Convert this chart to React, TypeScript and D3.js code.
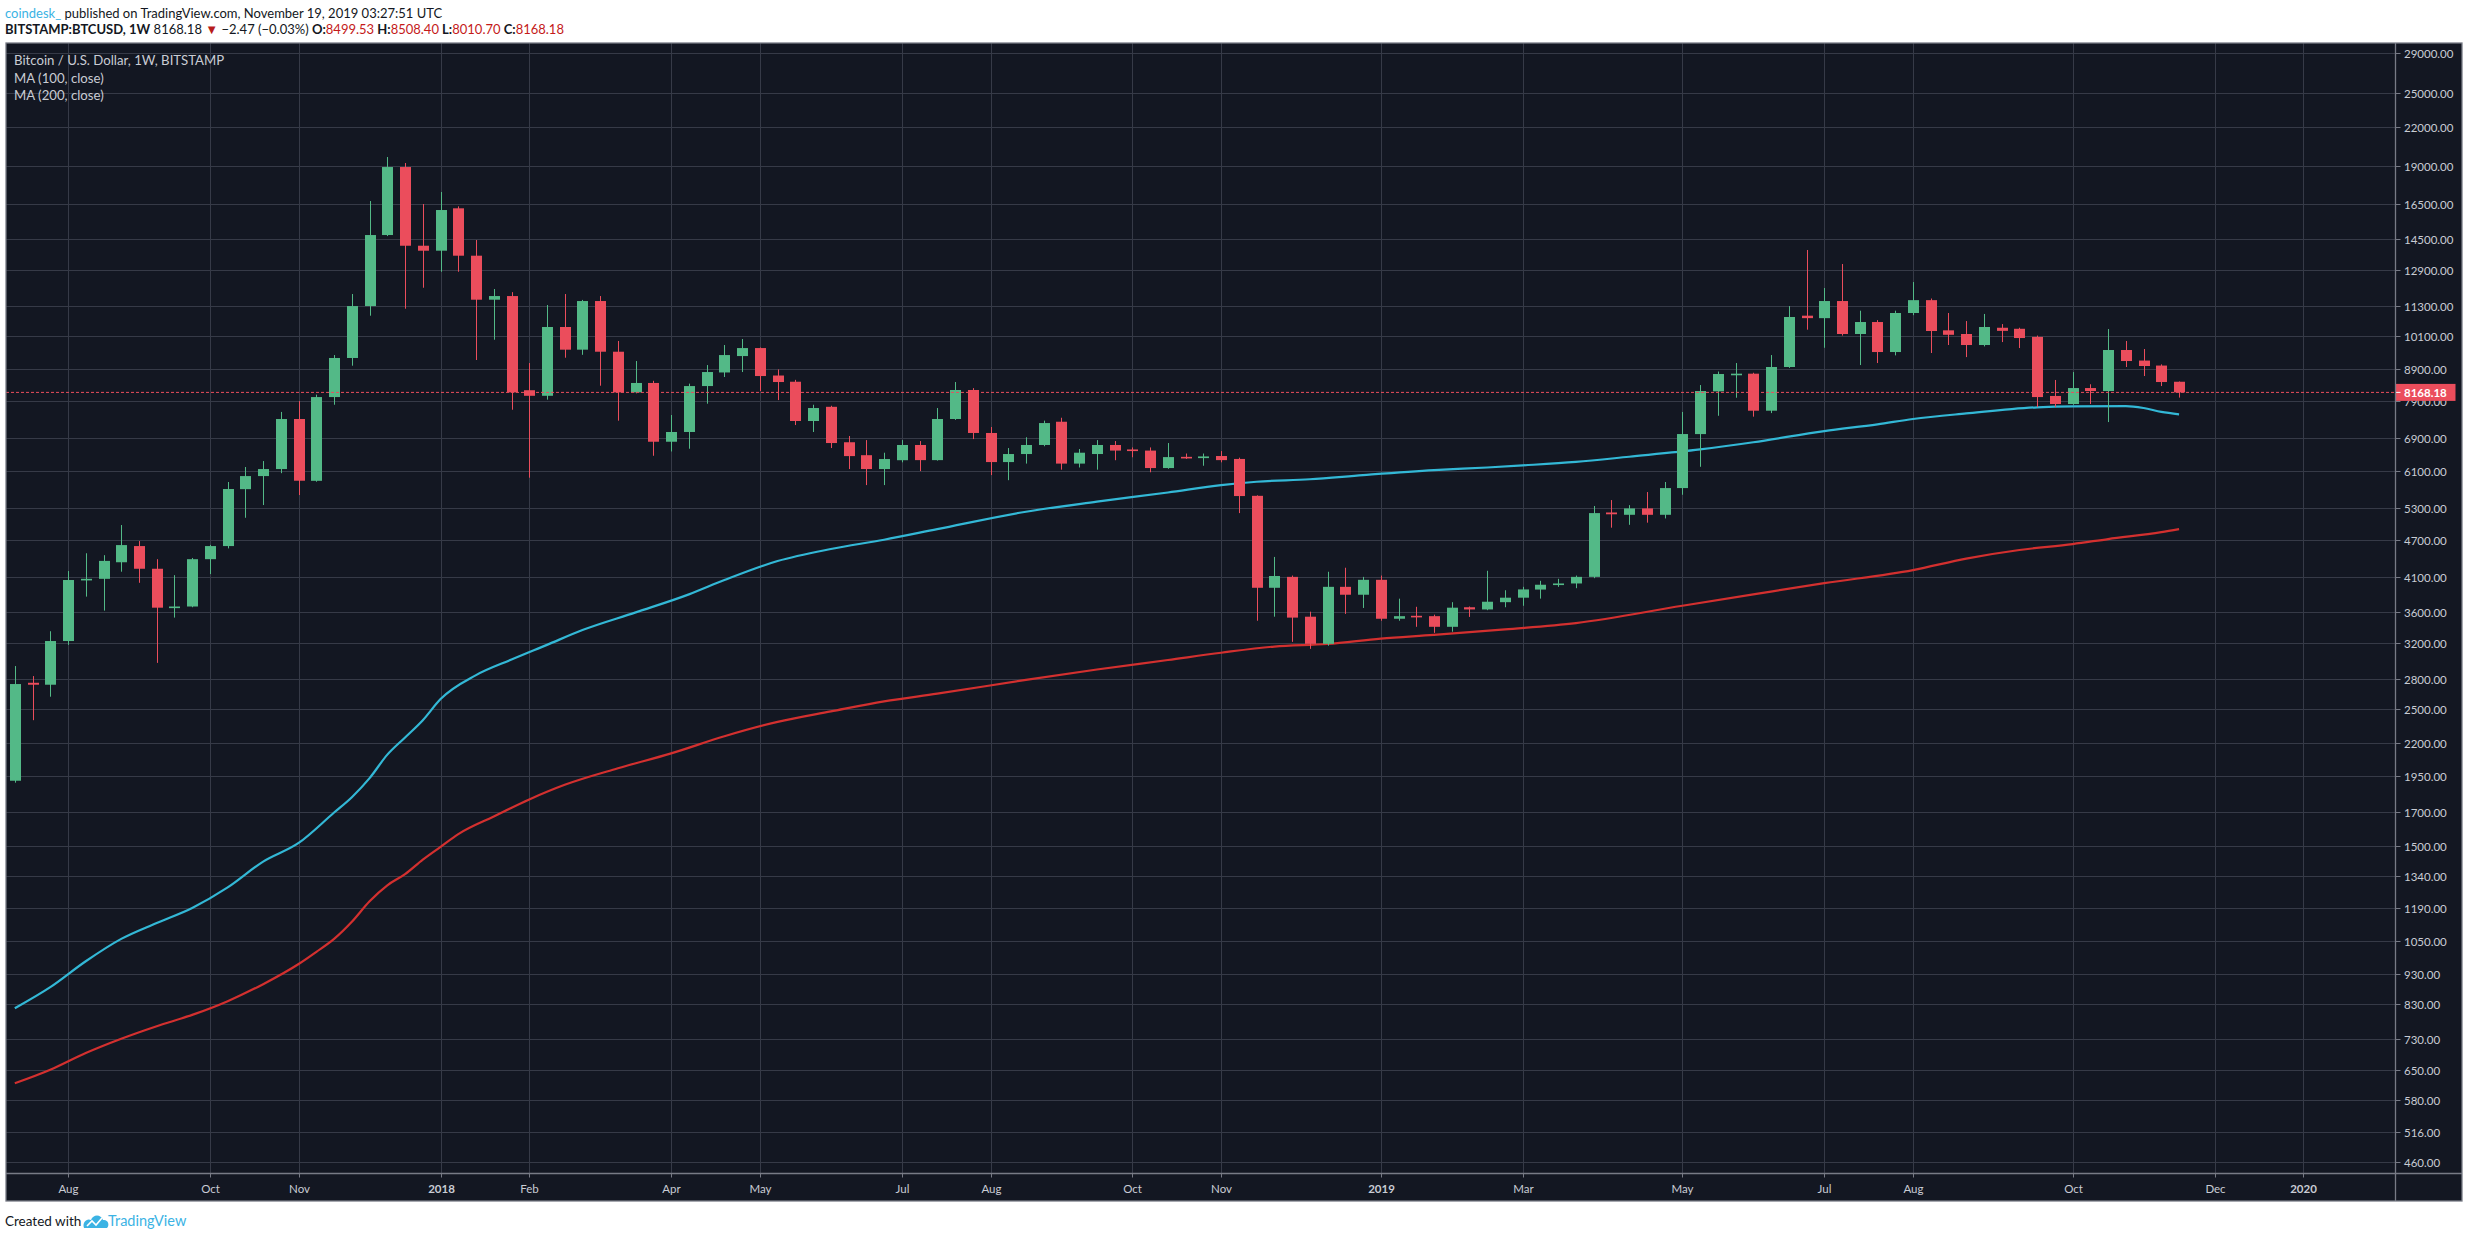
import * as React from 'react';
import * as d3 from 'd3';

// weekly BITSTAMP:BTCUSD candles, first bar = week of 2017-07-17
const firstWeek = Date.UTC(2017, 6, 17);
const opens = [
  1914, 2760, 2740, 3226, 4050, 4070, 4330, 4600, 4226, 3650,
  3670, 4380, 4600, 5690, 5975, 6134, 7395, 5870, 8027, 9289,
  11278, 14706, 18960, 14130, 13870, 16250, 13613, 11549, 11708, 8235,
  8065, 10429, 9582, 11492, 9509, 8168, 8461, 6793, 7045, 8364,
  8800, 9356, 9640, 8700, 8500, 7340, 7740, 6780, 6460, 6134,
  6340, 6711, 6342, 7395, 8242, 7019, 6296, 6488, 6711, 7320,
  6260, 6488, 6711, 6600, 6572, 6157, 6420, 6390, 6440, 6370,
  5550, 3936, 4100, 3533, 3192, 3950, 3835, 4055, 3506, 3545,
  3540, 3402, 3660, 3630, 3730, 3793, 3910, 3980, 4000, 4100,
  5215, 5170, 5295, 5170, 5713, 6990, 8200, 8740, 8760, 7628,
  8981, 10880, 10780, 11492, 10160, 10625, 9498, 10989, 11530, 10300,
  10160, 9750, 10400, 10360, 10050, 8060, 7821, 8302, 8210, 9570,
  9200, 9030, 8499.53,
];
const highs = [
  2938, 2830, 3346, 4190, 4478, 4446, 4976, 4687, 4380, 4126,
  4400, 4620, 5844, 6181, 6320, 7593, 7908, 8100, 9391, 11797,
  16699, 19683, 19247, 16513, 17270, 16370, 14434, 12019, 11880, 9115,
  11322, 11797, 11540, 11708, 9898, 9184, 8530, 7506, 8440, 9047,
  9750, 9971, 9660, 8900, 8560, 7800, 7770, 6940, 6835, 6520,
  6835, 6810, 7705, 8491, 8300, 7177, 6635, 6907, 7350, 7430,
  6610, 6835, 6810, 6650, 6650, 6760, 6500, 6500, 6560, 6400,
  5560, 4417, 4120, 3600, 4179, 4242, 4100, 4120, 3779, 3666,
  3560, 3730, 3670, 4194, 3900, 3950, 4040, 4070, 4120, 5343,
  5463, 5360, 5629, 5844, 7593, 8396, 8830, 9115, 8790, 9391,
  11278, 13906, 12065, 13196, 11084, 10700, 11084, 12337, 11600, 10989,
  10664, 10950, 10544, 10400, 10100, 8556, 8814, 8420, 10350, 9898,
  9606, 9070, 8508.40,
];
const lows = [
  1900, 2400, 2620, 3180, 3808, 3614, 4180, 4010, 2973, 3521,
  3660, 4143, 4560, 5113, 5362, 6040, 5566, 5850, 7800, 9025,
  10879, 14650, 11166, 12077, 12821, 12820, 9219, 9944, 7656, 5939,
  7950, 9298, 9400, 8375, 7349, 8140, 6446, 6550, 6618, 7830,
  8651, 8814, 8210, 7937, 7230, 7045, 6635, 6134, 5777, 5777,
  6290, 6088, 6330, 7370, 6860, 5997, 5884, 6260, 6680, 6120,
  6170, 6120, 6340, 6410, 6060, 6140, 6370, 6210, 6290, 5203,
  3480, 3533, 3216, 3133, 3170, 3570, 3650, 3480, 3480, 3402,
  3326, 3340, 3530, 3620, 3660, 3680, 3780, 3950, 3930, 4080,
  4927, 4980, 5020, 5100, 5572, 6186, 7485, 8007, 7460, 7560,
  8950, 10325, 9650, 10100, 9047, 9115, 9380, 10900, 9463, 9750,
  9320, 9700, 9858, 9640, 7733, 7733, 7800, 7821, 7311, 8981,
  8683, 8364, 8010.70,
];
const closes = [
  2747, 2740, 3226, 4052, 4070, 4352, 4617, 4226, 3654, 3670,
  4380, 4600, 5693, 5975, 6134, 7395, 5872, 8027, 9289, 11278,
  14706, 18960, 14129, 13869, 16147, 13613, 11549, 11708, 8168, 8065,
  10429, 9582, 11492, 9509, 8168, 8461, 6793, 7045, 8364, 8814,
  9391, 9640, 8683, 8491, 7340, 7705, 6760, 6438, 6134, 6368,
  6711, 6342, 7395, 8242, 7019, 6296, 6488, 6711, 7284, 6260,
  6520, 6711, 6572, 6560, 6157, 6414, 6400, 6430, 6342, 5545,
  3936, 4113, 3521, 3192, 3950, 3835, 4055, 3506, 3540, 3535,
  3402, 3654, 3630, 3736, 3793, 3912, 3981, 4000, 4100, 5203,
  5180, 5295, 5170, 5713, 6991, 8210, 8749, 8760, 7628, 8981,
  10826, 10780, 11492, 10160, 10625, 9498, 10989, 11530, 10274, 10130,
  9750, 10429, 10280, 10008, 8027, 7821, 8302, 8210, 9570, 9184,
  9015, 8491, 8168.18,
];

// moving averages, by bar index
const ma100Bars = [0, 2, 4, 6, 8, 10, 12, 14, 16, 18, 19, 20, 21, 22, 23, 24, 26, 28, 30, 32, 35, 38, 40, 43, 46, 49, 52, 57, 61, 65, 68, 70, 73, 76, 80, 83, 85, 88, 91, 95, 98, 102, 105, 107, 110, 114, 116, 119, 120, 121, 122];
const ma100Values = [818, 885, 975, 1060, 1125, 1190, 1285, 1415, 1517, 1700, 1800, 1933, 2110, 2250, 2400, 2597, 2840, 3010, 3180, 3361, 3590, 3840, 4051, 4350, 4550, 4710, 4900, 5230, 5430, 5620, 5777, 5850, 5904, 5997, 6110, 6170, 6218, 6300, 6423, 6600, 6780, 7070, 7250, 7395, 7550, 7726, 7755, 7762, 7705, 7593, 7526];
const ma200Bars = [0, 2, 4, 6, 8, 10, 12, 14, 16, 17, 18, 19, 20, 21, 22, 23, 24, 25, 27, 29, 31, 34, 37, 40, 43, 46, 49, 52, 57, 61, 65, 68, 71, 74, 77, 80, 84, 88, 94, 98, 102, 107, 110, 113, 116, 118, 121, 122];
const ma200Values = [618, 650, 692, 730, 765, 798, 840, 895, 965, 1010, 1060, 1130, 1220, 1295, 1350, 1425, 1495, 1568, 1675, 1785, 1885, 2005, 2120, 2260, 2385, 2480, 2575, 2650, 2790, 2900, 3005, 3088, 3160, 3190, 3255, 3300, 3370, 3450, 3680, 3840, 4005, 4205, 4390, 4533, 4634, 4722, 4846, 4901];

const priceTicks = [29000, 25000, 22000, 19000, 16500, 14500, 12900, 11300, 10100, 8900, 7900, 6900, 6100, 5300, 4700, 4100, 3600, 3200, 2800, 2500, 2200, 1950, 1700, 1500, 1340, 1190, 1050, 930, 830, 730, 650, 580, 516, 460];
const timeTicks = ['2017-08-07', '2017-10-02', '2017-11-06', '2018-01-01', '2018-02-05', '2018-04-02', '2018-05-07', '2018-07-02', '2018-08-06', '2018-10-01', '2018-11-05', '2019-01-07', '2019-03-04', '2019-05-06', '2019-07-01', '2019-08-05', '2019-10-07', '2019-12-02', '2020-01-06'];
const timeLabels = ['Aug', 'Oct', 'Nov', '2018', 'Feb', 'Apr', 'May', 'Jul', 'Aug', 'Oct', 'Nov', '2019', 'Mar', 'May', 'Jul', 'Aug', 'Oct', 'Dec', '2020'];

const W = 2468;
const H = 1238;
const frame = { left: 6, top: 43, right: 2462, bottom: 1201 };
const axisX = 2395.5;
const axisY = 1173.5;
const bg = '#131722';
const up = '#53b987';
const down = '#eb4d5c';
const gridColor = '#363a47';
const borderColor = '#787b86';
const textColor = '#c9ccd4';
const font = 'Lato, "Liberation Sans", sans-serif';

const week = (i: number) => new Date(firstWeek + i * 7 * 864e5);

export default function App() {
  React.useEffect(() => {
    document.body.style.margin = '0';
  }, []);

  const x = d3.scaleUtc()
    .domain([week(0), week(closes.length - 1)])
    .range([14.8, 14.8 + (closes.length - 1) * 17.74]);
  const y = d3.scaleLog()
    .domain([460, 29000])
    .range([1162.3, 53.3]);

  const xi = (i: number) => x(week(i));
  const bodyW = 11;

  const makePath = (bars: number[], values: number[]) =>
    d3.line<number>()
      .x(i => xi(bars[i]))
      .y(i => y(values[i]))
      .curve(d3.curveMonotoneX)(bars.map((_, i) => i)) ?? '';

  const last = closes[closes.length - 1];
  const lastY = y(last);

  return (
    <div style={{ position: 'absolute', left: 0, top: 0 }}>
      <svg width={W} height={H} style={{ display: 'block' }} fontFamily={font}>
        <rect width={W} height={H} fill="#ffffff" />

        {/* header */}
        <text x={5} y={17.5} fontSize={13} fill="#131722">
          <tspan fill="#3bb3e4">coindesk_</tspan>
          <tspan> published on TradingView.com, November 19, 2019 03:27:51 UTC</tspan>
        </text>
        <text x={5} y={34} fontSize={13} fill="#131722">
          <tspan fontWeight="bold">BITSTAMP:BTCUSD, 1W</tspan>
          <tspan>  8168.18 </tspan>
          <tspan fill="#b71c1c">▼</tspan>
          <tspan> −2.47 (−0.03%) </tspan>
          <tspan fontWeight="bold">O:</tspan>
          <tspan fill="#c41a1a">8499.53</tspan>
          <tspan fontWeight="bold"> H:</tspan>
          <tspan fill="#c41a1a">8508.40</tspan>
          <tspan fontWeight="bold"> L:</tspan>
          <tspan fill="#c41a1a">8010.70</tspan>
          <tspan fontWeight="bold"> C:</tspan>
          <tspan fill="#c41a1a">8168.18</tspan>
        </text>

        {/* chart background */}
        <rect x={frame.left} y={frame.top} width={frame.right - frame.left} height={frame.bottom - frame.top} fill={bg} />

        <defs>
          <clipPath id="plot">
            <rect x={frame.left} y={frame.top} width={axisX - frame.left} height={axisY - frame.top} />
          </clipPath>
        </defs>

        {/* grid */}
        <g stroke={gridColor} strokeWidth={1}>
          {priceTicks.map(p => (
            <line key={'h' + p} x1={frame.left} x2={axisX} y1={Math.round(y(p)) + 0.5} y2={Math.round(y(p)) + 0.5} />
          ))}
          {timeTicks.map(t => {
            const px = Math.round(x(new Date(t + 'T00:00:00Z'))) + 0.5;
            return <line key={'v' + t} x1={px} x2={px} y1={frame.top} y2={axisY} />;
          })}
        </g>

        <g clipPath="url(#plot)">
          {/* moving averages */}
          <path d={makePath(ma200Bars, ma200Values)} fill="none" stroke="#d3302f" strokeWidth={2.2} />
          <path d={makePath(ma100Bars, ma100Values)} fill="none" stroke="#33b8d6" strokeWidth={2.2} />

          {/* candles */}
          {closes.map((c, i) => {
            const o = opens[i];
            const color = c >= o ? up : down;
            const cx = Math.round(xi(i)) + 0.5;
            const top = y(Math.max(o, c));
            const bot = y(Math.min(o, c));
            return (
              <g key={i}>
                <line x1={cx} x2={cx} y1={y(highs[i])} y2={y(lows[i])} stroke={color} strokeWidth={1} />
                <rect x={cx - bodyW / 2} y={top} width={bodyW} height={Math.max(1.6, bot - top)} fill={color} />
              </g>
            );
          })}

          {/* last price line */}
          <line x1={frame.left} x2={axisX} y1={lastY} y2={lastY} stroke={down} strokeWidth={1} strokeDasharray="3 2" />
        </g>

        {/* legend */}
        <g fontSize={13.2} fill={textColor}>
          <text x={14} y={65}>Bitcoin / U.S. Dollar, 1W, BITSTAMP</text>
          <text x={14} y={82.5}>MA (100, close)</text>
          <text x={14} y={99.5}>MA (200, close)</text>
        </g>

        {/* price axis */}
        <g>
          {priceTicks.map(p => {
            const py = Math.round(y(p)) + 0.5;
            return (
              <g key={'p' + p}>
                <line x1={axisX} x2={axisX + 5} y1={py} y2={py} stroke={borderColor} />
                <text x={2404} y={py + 4} fontSize={11.5} fill={textColor}>{d3.format('.2f')(p)}</text>
              </g>
            );
          })}
          <rect x={axisX} y={lastY - 8.5} width={60} height={17} fill={down} />
          <line x1={axisX} x2={axisX + 5} y1={lastY} y2={lastY} stroke="#ffffff" />
          <text x={2404} y={lastY + 4.2} fontSize={11.5} fontWeight="bold" fill="#ffffff">{d3.format('.2f')(last)}</text>
        </g>

        {/* time axis */}
        <g>
          {timeTicks.map((t, k) => {
            const px = Math.round(x(new Date(t + 'T00:00:00Z'))) + 0.5;
            const isYear = /^\d{4}$/.test(timeLabels[k]);
            return (
              <g key={'t' + t}>
                <line x1={px} x2={px} y1={axisY} y2={axisY + 4} stroke={borderColor} />
                <text x={px} y={1193} fontSize={11.5} textAnchor="middle" fill={textColor} fontWeight={isYear ? 'bold' : 'normal'}>
                  {timeLabels[k]}
                </text>
              </g>
            );
          })}
        </g>

        {/* frame and axis separators */}
        <g stroke={borderColor} strokeWidth={1.3} fill="none">
          <rect x={frame.left} y={frame.top} width={frame.right - frame.left} height={frame.bottom - frame.top} />
          <line x1={axisX} x2={axisX} y1={frame.top} y2={frame.bottom} />
          <line x1={frame.left} x2={frame.right} y1={axisY} y2={axisY} />
        </g>

        {/* footer */}
        <text x={5} y={1226} fontSize={13.5} fill="#131722">Created with</text>
        <g transform="translate(83,1213)">
          <path d="M1,15 C-1,9 4,5 8,7 C10,1 18,1 20,7 C25,6 27,12 24,15 Z" fill="#3bb3e4" />
          <path d="M4,13 L9,8 L13,12 L19,5" fill="none" stroke="#ffffff" strokeWidth={1.6} />
        </g>
        <text x={108} y={1226} fontSize={14.5} fill="#3bb3e4">TradingView</text>
      </svg>
    </div>
  );
}
